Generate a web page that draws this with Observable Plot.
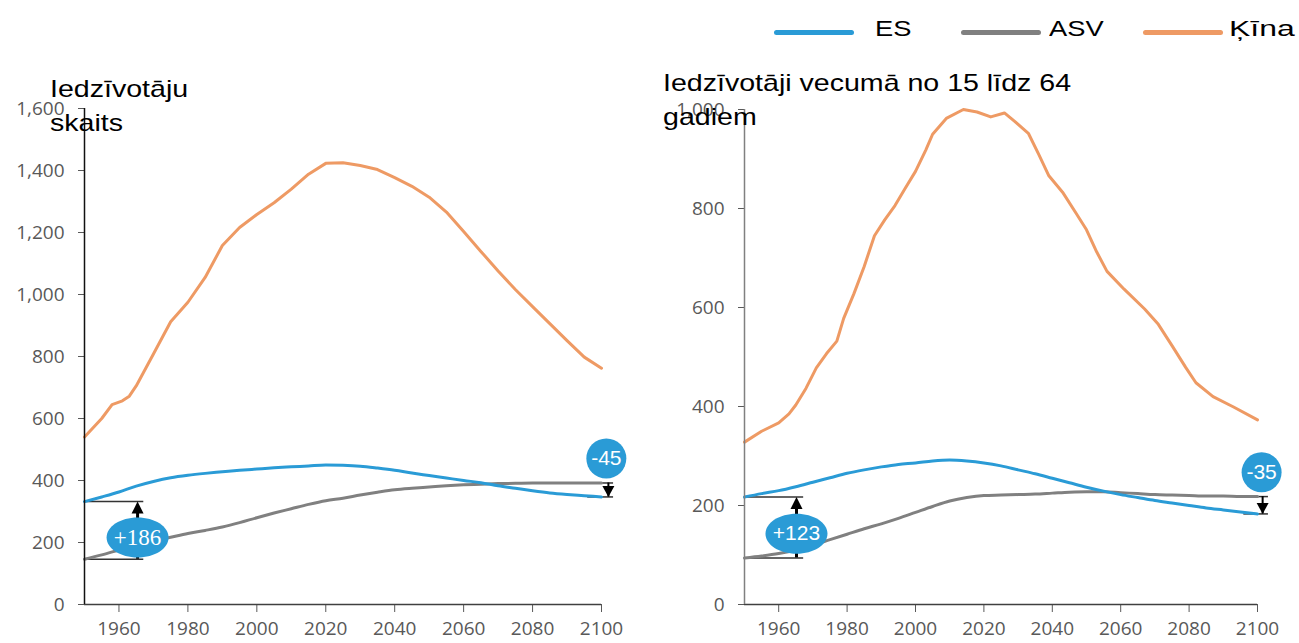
<!DOCTYPE html>
<html><head><meta charset="utf-8">
<script src="https://cdn.jsdelivr.net/npm/d3@7"></script>
<script src="https://cdn.jsdelivr.net/npm/@observablehq/plot@0.6"></script>
<style>
body{margin:0;background:#fff;}
#page{position:relative;width:1299px;height:643px;overflow:hidden;font-family:"Liberation Sans",Arial,sans-serif;background:#fff;}
.title{position:absolute;font-size:24px;line-height:34px;color:#000;transform:scaleX(1.19);transform-origin:0 0;white-space:nowrap;}
.leg-line{position:absolute;height:5px;border-radius:3px;}
.leg-text{position:absolute;font-size:22px;line-height:26px;color:#000;transform-origin:0 0;white-space:nowrap;}
</style></head>
<body><div id="page">
<div id="left" style="position:absolute;left:0;top:0"></div>
<div id="right" style="position:absolute;left:650px;top:0"></div>
<div id="legend"></div>
<div id="titles"></div>
</div>
<script>
// ---- data (millions) ----
const grid = [1950,1955,1960,1965,1970,1975,1980,1985,1990,1995,2000,2005,2010,2015,2020,2025,2030,2035,2040,2045,2050,2055,2060,2065,2070,2075,2080,2085,2090,2095,2100];
const xTicks = [1960,1980,2000,2020,2040,2060,2080,2100];
const yTicksTotal = [0,200,400,600,800,1000,1200,1400,1600];
const yTicksWorking = [0,200,400,600,800,1000];
const seriesNames = ["ES","ASV","Ķīna"];
const seriesColors = ["#2a9bd6","#808080","#ee9a64"];
const titleTotal = ["Iedzīvotāju","skaits"];
const titleWorking = ["Iedzīvotāji vecumā no 15 līdz 64","gadiem"];

// Panel 1: total population
const euTotal = [332,347,363,382,397,409,417,423,428,433,437,441,444,447,450,449,446,440,433,424,416,408,400,393,383,375,367,360,355,351,347];
const usTotal = [146,160,176,192,205,217,229,239,250,264,280,295,309,323,335,343,353,362,370,375,379,383,386,388,390,391,392,392,392,392,392];
const chinaTotalYears = [1950,1955,1958,1961,1963,1965,1970,1975,1980,1985,1990,1995,2000,2005,2010,2015,2020,2025,2030,2035,2040,2045,2050,2055,2060,2065,2070,2075,2080,2085,2090,2095,2100];
const chinaTotal = [540,600,645,657,672,705,808,912,975,1055,1158,1216,1258,1296,1340,1388,1423,1425,1416,1403,1377,1349,1314,1266,1203,1139,1076,1016,961,906,851,798,762];

// Panel 2: working age population (15-64)
const euWorking = [217,224,230,238,247,256,265,272,278,283,286,290,292,290,286,280,272,264,255,246,237,229,222,216,210,205,200,195,191,187,183];
const usWorking = [94,98,103,110,120,131,142,153,163,174,186,198,209,216,220,221,222,223,225,227,228,228,226,224,222,221,220,219,219,218,218];
const chinaWorkingYears = [1950,1955,1960,1963,1965,1968,1971,1974,1977,1979,1982,1985,1988,1991,1994,1997,2000,2003,2005,2009,2014,2018,2022,2026,2029,2033,2036,2039,2043,2047,2050,2053,2056,2061,2067,2071,2075,2079,2082,2087,2093,2100];
const chinaWorking = [328,350,367,385,403,437,478,507,532,578,628,683,745,777,806,841,875,918,950,982,1000,995,985,993,976,952,910,866,833,790,757,712,673,637,597,566,523,479,448,420,399,373];

// annotation labels (gaps between ES and ASV)
const gapLabelsTotal = ["+186","-45"];
const gapLabelsWorking = ["+123","-35"];

// ---- helpers ----
const blue = "#2a9bd6";
const ellipse = {draw(ctx){const a=31,b=20,k=0.5523;ctx.moveTo(a,0);ctx.bezierCurveTo(a,k*b,k*a,b,0,b);ctx.bezierCurveTo(-k*a,b,-a,k*b,-a,0);ctx.bezierCurveTo(-a,-k*b,-k*a,-b,0,-b);ctx.bezierCurveTo(k*a,-b,a,-k*b,a,0);ctx.closePath();}};
const headUp = {draw(ctx){ctx.moveTo(0,0);ctx.lineTo(-6,12);ctx.lineTo(6,12);ctx.closePath();}};
const headDown = {draw(ctx){ctx.moveTo(0,0);ctx.lineTo(-6,-11);ctx.lineTo(6,-11);ctx.closePath();}};

function toRows(years, values){return years.map((y,i)=>({year:y,value:values[i]}));}

function panel(cfg){
  const eu = toRows(grid, cfg.eu), us = toRows(grid, cfg.us), cn = toRows(cfg.cnYears, cfg.cn);
  const n = cfg.eu.length - 1;
  const s = {x: cfg.startX, high: cfg.eu[0], low: cfg.us[0], ly: cfg.startLabelY, label: cfg.labels[0]};
  const e = {x: cfg.endX, high: cfg.us[n], low: cfg.eu[n], lx: cfg.endLabelX, ly: cfg.endLabelY, label: cfg.labels[1]};
  const gapLines = [
    {y: s.high, x1: 1950, x2: cfg.startLineEnd}, {y: s.low, x1: 1950, x2: cfg.startLineEnd},
    {y: e.high, x1: 2096, x2: cfg.endLineEnd}, {y: e.low, x1: 2096, x2: cfg.endLineEnd}
  ];
  return Plot.plot({
    width: cfg.width, height: 643,
    marginLeft: cfg.ml, marginRight: cfg.mr, marginTop: cfg.mt, marginBottom: 39,
    style: {fontFamily: "'Open Sans', sans-serif", fontSize: "19px", color: "#595959", background: "transparent", overflow: "visible"},
    x: {domain: [1950, 2100], ticks: xTicks, tickFormat: d => String(d), tickSize: 8, tickPadding: 9, label: null},
    y: {domain: [0, cfg.yMax], ticks: cfg.yTicks, tickFormat: d => d.toLocaleString("en-US"), tickSize: 6, tickPadding: 14, label: null},
    marks: [
      Plot.ruleY(gapLines, {y: "y", x1: "x1", x2: "x2", stroke: "#333", strokeWidth: 1.5}),
      Plot.line(cn, {x: "year", y: "value", stroke: seriesColors[2], strokeWidth: 3, curve: "linear"}),
      Plot.line(us, {x: "year", y: "value", stroke: seriesColors[1], strokeWidth: 3, curve: "monotone-x"}),
      Plot.line(eu, {x: "year", y: "value", stroke: seriesColors[0], strokeWidth: 3, curve: "monotone-x"}),
      Plot.ruleY([0], {stroke: "#404040", strokeWidth: 1.5}),
      Plot.ruleX([1950], {stroke: cfg.axisColor, strokeWidth: 1.5}),
      // start gap arrow
      Plot.ruleX([s], {x: "x", y1: "low", y2: d => d.high - cfg.headOff, stroke: "#000", strokeWidth: 3}),
      Plot.dot([s], {x: "x", y: "high", symbol: headUp, fill: "#000", stroke: "none"}),
      Plot.dot([s], {x: "x", y: "ly", symbol: ellipse, fill: blue, stroke: "none"}),
      Plot.text([s], {x: "x", y: "ly", text: "label", fill: "#fff", fontSize: cfg.startSize, fontFamily: cfg.startFont}),
      // end gap arrow
      Plot.ruleX([e], {x: "x", y1: "high", y2: "low", stroke: "#000", strokeWidth: 2}),
      Plot.dot([e], {x: "x", y: "low", symbol: headDown, fill: "#000", stroke: "none"}),
      Plot.dot([e], {x: "lx", y: "ly", r: 20, fill: blue, stroke: "none"}),
      Plot.text([e], {x: "lx", y: "ly", text: "label", fill: "#fff", fontSize: 21, fontFamily: "'Liberation Sans', Arial, sans-serif"})
    ]
  });
}

document.getElementById("left").appendChild(panel({
  width: 650, ml: 84, mr: 49, mt: 108, yMax: 1600, yTicks: yTicksTotal, axisColor: "#111",
  eu: euTotal, us: usTotal, cnYears: chinaTotalYears, cn: chinaTotal,
  startX: 1965.4, startLineEnd: 1967.2, startLabelY: 216, headOff: 20,
  endX: 2102, endLineEnd: 2103.5, endLabelX: 2101.4, endLabelY: 471,
  labels: gapLabelsTotal, startFont: "'Liberation Serif', serif", startSize: 23
}));
document.getElementById("right").appendChild(panel({
  width: 649, ml: 94, mr: 42, mt: 109, yMax: 1000, yTicks: yTicksWorking, axisColor: "#808080",
  eu: euWorking, us: usWorking, cnYears: chinaWorkingYears, cn: chinaWorking,
  startX: 1965.2, startLineEnd: 1967.3, startLabelY: 143, headOff: 12,
  endX: 2101.5, endLineEnd: 2103.2, endLabelX: 2101.2, endLabelY: 267,
  labels: gapLabelsWorking, startFont: "'Liberation Sans', Arial, sans-serif", startSize: 21
}));

// legend
const legend = document.getElementById("legend");
const legLineX = [774, 961, 1143], legTextX = [875, 1049, 1229], legScale = [1.24, 1.24, 1.45];
seriesNames.forEach((name, i) => {
  const l = document.createElement("div");
  l.className = "leg-line";
  l.style.cssText = `left:${legLineX[i]}px;top:30px;width:80px;background:${seriesColors[i]};`;
  legend.appendChild(l);
  const t = document.createElement("div");
  t.className = "leg-text";
  t.style.cssText = `left:${legTextX[i]}px;top:16px;transform:scaleX(${legScale[i]});`;
  t.textContent = name;
  legend.appendChild(t);
});

// titles
const titles = document.getElementById("titles");
[[titleTotal, 50, 72], [titleWorking, 663, 66]].forEach(([lines, x, y]) => {
  const d = document.createElement("div");
  d.className = "title";
  d.style.left = x + "px"; d.style.top = y + "px";
  d.innerHTML = lines.join("<br>");
  titles.appendChild(d);
});
</script>
</body></html>
